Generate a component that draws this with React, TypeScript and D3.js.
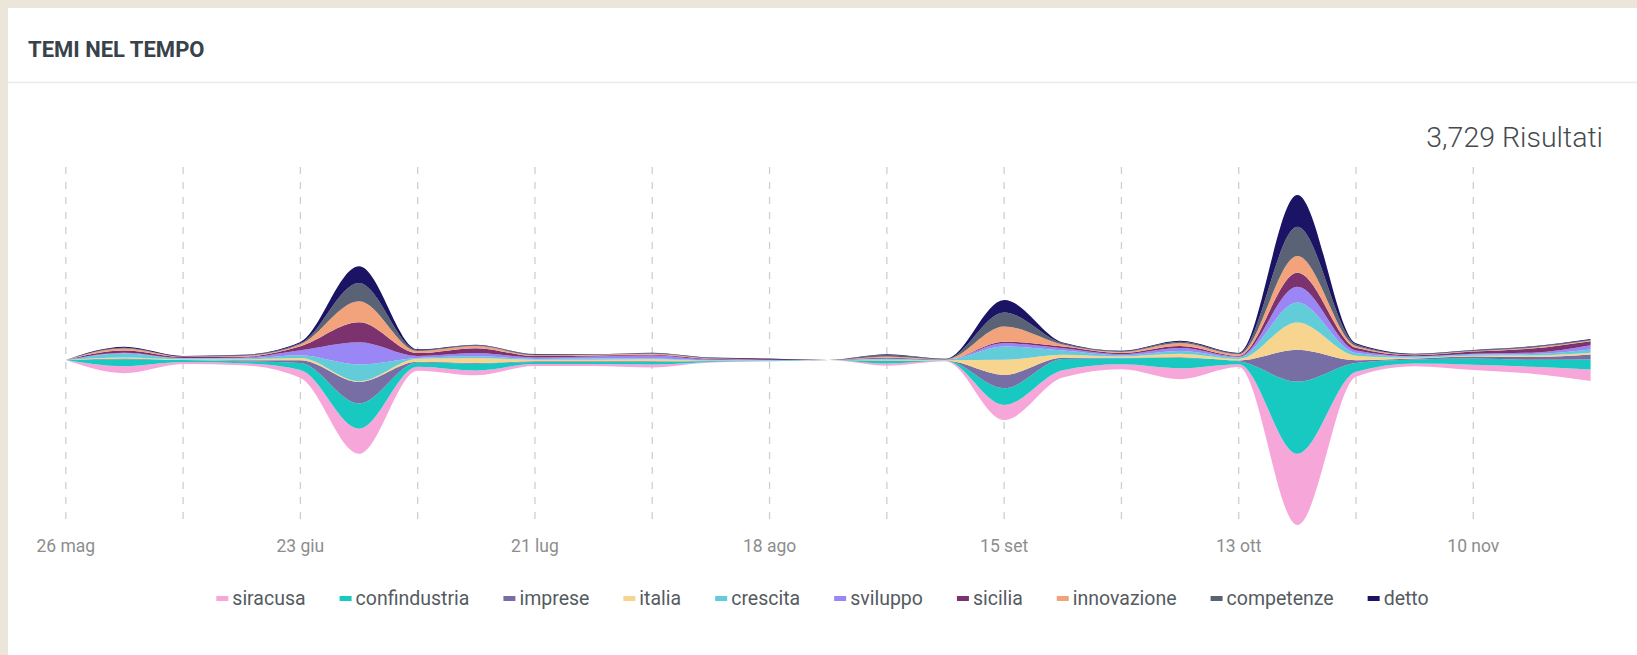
import React, { useMemo } from "react";
import * as d3 from "d3";

// ---------- DATA ----------
const weeks = [
  "2019-05-26", "2019-06-02", "2019-06-09", "2019-06-16", "2019-06-23", "2019-06-30",
  "2019-07-07", "2019-07-14", "2019-07-21", "2019-07-28", "2019-08-04", "2019-08-11",
  "2019-08-18", "2019-08-25", "2019-09-01", "2019-09-08", "2019-09-15", "2019-09-22",
  "2019-09-29", "2019-10-06", "2019-10-13", "2019-10-20", "2019-10-27", "2019-11-03",
  "2019-11-10", "2019-11-17", "2019-11-24",
];

const seriesNames = [
  "siracusa", "confindustria", "imprese", "italia", "crescita",
  "sviluppo", "sicilia", "innovazione", "competenze", "detto",
];

const siracusa = [0, 24, 7, 7, 28, 87, 14, 17, 7, 7, 10, 2, 2, 0, 7, 1, 52, 25, 17, 38, 10, 246, 17, 10, 19, 24, 40];
const confindustria = [0, 24, 7, 7, 24, 87, 14, 23, 7, 7, 9, 2, 0, 0, 9, 1, 58, 39, 21, 35, 10, 250, 31, 14, 21, 24, 35];
const imprese = [0, 3, 0, 3, 10, 75, 3, 3, 2, 2, 2, 1, 0, 0, 2, 0, 46, 4, 2, 3, 3, 110, 9, 3, 7, 10, 17];
const italia = [0, 3, 2, 3, 7, 2, 10, 17, 5, 5, 7, 1, 0, 0, 2, 1, 52, 11, 4, 12, 5, 94, 16, 3, 3, 5, 6];
const crescita = [0, 14, 3, 3, 10, 58, 3, 6, 3, 5, 3, 2, 3, 0, 3, 1, 46, 14, 4, 10, 5, 69, 9, 3, 4, 5, 11];
const sviluppo = [0, 3, 2, 3, 17, 77, 7, 11, 5, 7, 10, 2, 0, 0, 2, 0, 11, 8, 4, 10, 3, 55, 9, 2, 3, 5, 15];
const sicilia = [0, 7, 3, 3, 14, 69, 10, 17, 5, 3, 3, 3, 2, 0, 2, 1, 6, 6, 4, 7, 3, 48, 9, 3, 7, 14, 14];
const innovazione = [0, 7, 2, 3, 7, 73, 7, 7, 3, 3, 3, 1, 0, 0, 5, 1, 52, 7, 4, 10, 5, 58, 6, 2, 2, 3, 2];
const competenze = [0, 3, 0, 2, 3, 63, 3, 3, 2, 1, 2, 1, 0, 0, 5, 1, 49, 4, 2, 5, 3, 101, 6, 2, 2, 3, 3];
const detto = [0, 3, 2, 2, 5, 58, 3, 2, 2, 1, 2, 2, 3, 0, 2, 1, 43, 3, 2, 3, 2, 110, 4, 2, 2, 2, 3];

const seriesValues = [
  siracusa, confindustria, imprese, italia, crescita,
  sviluppo, sicilia, innovazione, competenze, detto,
];

const seriesColors = [
  "#f7a6d9", "#17c9c0", "#786ea6", "#f7d58e", "#62cdd8",
  "#9b86f5", "#7d3270", "#f3a37c", "#5a6275", "#1b1464",
];

const tickDates = ["2019-05-26", "2019-06-23", "2019-07-21", "2019-08-18", "2019-09-15", "2019-10-13", "2019-11-10"];
const tickLabels = ["26 mag", "23 giu", "21 lug", "18 ago", "15 set", "13 ott", "10 nov"];
const gridDates = [
  "2019-05-26", "2019-06-09", "2019-06-23", "2019-07-07", "2019-07-21", "2019-08-04",
  "2019-08-18", "2019-09-01", "2019-09-15", "2019-09-29", "2019-10-13", "2019-10-27", "2019-11-10",
];

const titleText = "TEMI NEL TEMPO";
const resultsText = "3,729 Risultati";

// ---------- LAYOUT ----------
const W = 1637;
const H = 655;
const CARD_X = 8;
const CARD_Y = 8;
const PLOT_LEFT = 65.8;
const PLOT_RIGHT = 1590.6;
const CENTER_Y = 360;
const HALF_H = 165;
const GRID_TOP = 167;
const GRID_BOTTOM = 522;

const parse = d3.utcParse("%Y-%m-%d");

function measure(text: string, font: string): number {
  const c = document.createElement("canvas").getContext("2d");
  if (!c) return text.length * 9;
  c.font = font;
  return c.measureText(text).width;
}

export default function App() {
  const model = useMemo(() => {
    const table = weeks.map((w, i) => {
      const row: any = { date: parse(w) };
      seriesNames.forEach((k, j) => {
        row[k] = seriesValues[j][i];
      });
      return row;
    });
    const stack = d3
      .stack<any>()
      .keys(seriesNames)
      .order(d3.stackOrderNone)
      .offset(d3.stackOffsetSilhouette);
    const layers = stack(table);

    const x = d3
      .scaleUtc()
      .domain(d3.extent(table, (d: any) => d.date) as [Date, Date])
      .range([PLOT_LEFT, PLOT_RIGHT]);

    const maxTotal = d3.max(table, (d: any) => d3.sum(seriesNames, (k) => d[k])) as number;
    const y = d3
      .scaleLinear()
      .domain([-maxTotal / 2, maxTotal / 2])
      .range([CENTER_Y + HALF_H, CENTER_Y - HALF_H]);

    const area = d3
      .area<any>()
      .x((d) => x(d.data.date))
      .y0((d) => y(d[0]))
      .y1((d) => y(d[1]))
      .curve(d3.curveMonotoneX);

    const paths = layers.map((l, i) => ({ d: area(l) as string, color: seriesColors[i], key: l.key }));

    // legend layout
    const legendFont = "19.5px Roboto";
    const sw = 12, sg = 4, gap = 34;
    const widths = seriesNames.map((n) => measure(n, legendFont));
    const total = d3.sum(widths) + seriesNames.length * (sw + sg) + (seriesNames.length - 1) * gap;
    let cx = (CARD_X + W) / 2 - total / 2;
    const legend = seriesNames.map((n, i) => {
      const item = { name: n, color: seriesColors[i], x: cx };
      cx += sw + sg + widths[i] + gap;
      return item;
    });

    return { x, paths, legend, sw, sg };
  }, []);

  const { x, paths, legend, sw, sg } = model;

  return (
    <svg
      width={W}
      height={H}
      style={{ position: "absolute", left: 0, top: 0, display: "block" }}
      fontFamily="Roboto, 'Noto Sans', sans-serif"
    >
      <style>{`body{margin:0;overflow:hidden;}`}</style>
      <rect x={0} y={0} width={W} height={H} fill="#ece5da" />
      <rect x={CARD_X} y={CARD_Y} width={W - CARD_X} height={H - CARD_Y} fill="#ffffff" />

      {/* header */}
      <text x={28} y={57} fontSize={22} fontWeight={700} fill="#37424a">
        {titleText}
      </text>
      <line x1={CARD_X} x2={W} y1={82.5} y2={82.5} stroke="#ebebeb" strokeWidth={1.5} />

      <text
        x={1603}
        y={147}
        fontSize={28.5}
        fontWeight={300}
        fill="#454a4f"
        textAnchor="end"
      >
        {resultsText}
      </text>

      {/* grid */}
      {gridDates.map((g) => {
        const gx = x(parse(g) as Date);
        return (
          <line
            key={g}
            x1={gx}
            x2={gx}
            y1={GRID_TOP}
            y2={GRID_BOTTOM}
            stroke="#cfcfcf"
            strokeWidth={1.3}
            strokeDasharray="7,8"
          />
        );
      })}

      {/* stream */}
      {paths.map((p) => (
        <path key={p.key} d={p.d} fill={p.color} />
      ))}

      {/* axis labels */}
      {tickDates.map((t, i) => (
        <text
          key={t}
          x={x(parse(t) as Date)}
          y={552}
          fontSize={17.5}
          fill="#8d8d8d"
          textAnchor="middle"
        >
          {tickLabels[i]}
        </text>
      ))}

      {/* legend */}
      {legend.map((l) => (
        <g key={l.name}>
          <rect x={l.x} y={596} width={sw} height={5} fill={l.color} />
          <text x={l.x + sw + sg} y={605} fontSize={19.5} fill="#555b61">
            {l.name}
          </text>
        </g>
      ))}
    </svg>
  );
}
